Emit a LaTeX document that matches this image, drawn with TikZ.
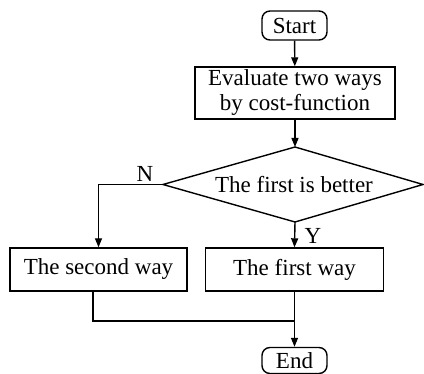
\documentclass[tikz,border=0pt]{standalone}
\usepackage{fontspec}
\setmainfont{Liberation Serif}
\usetikzlibrary{arrows.meta}
\begin{document}
\begin{tikzpicture}[x=0.5pt,y=-0.5pt,
  every node/.style={font=\fontsize{11.5}{12.5}\selectfont, inner sep=0pt},
  term/.style={draw, rounded corners=4pt, minimum width=32.5pt, line width=0.7pt},
  proc/.style={draw, minimum height=21.5pt, line width=0.7pt, align=center},
  conn/.style={line width=0.7pt},
  arr/.style={conn, -{Triangle[length=4.5pt,width=3.5pt]}},
  lbl/.style={}]
\useasboundingbox (0,0) rectangle (424,374);
\node[term, minimum height=14.5pt] (start) at (294.5,25.5) {Start};
\node[proc, minimum width=100pt, minimum height=26pt] (eval) at (295,93) {Evaluate two ways\\by cost-function};
\node (dia) at (294,184.5) {The first is better};
\coordinate (dN) at (295,147);
\coordinate (dS) at (295,222);
\coordinate (dW) at (163,184.5);
\coordinate (dE) at (423,184.5);
\draw[conn, line join=miter] (dN) -- (dE) -- (dS) -- (dW) -- cycle;
\node[proc, minimum width=88.5pt] (second) at (98.5,269.5) {The second way};
\node[proc, minimum width=89pt] (first) at (294.5,269.5) {The first way};
\node[term, minimum height=13pt] (end) at (294.5,360.5) {End};
\coordinate (merge) at (294.5,321);
\coordinate (sb) at (93,290.5);
\draw[arr] (start) -- (eval);
\draw[arr] (eval.south) -- (dN);
\draw[arr] (dW) -| (second.north);
\draw[arr] (dS) -- (first.north);
\draw[conn] (first.south) -- (merge);
\draw[conn] (sb) |- (merge);
\draw[arr] (merge) -- (end.north);
\node[lbl] (nlab) at (145,174) {N};
\node[lbl] (ylab) at (313,236) {Y};
\end{tikzpicture}
\end{document}
